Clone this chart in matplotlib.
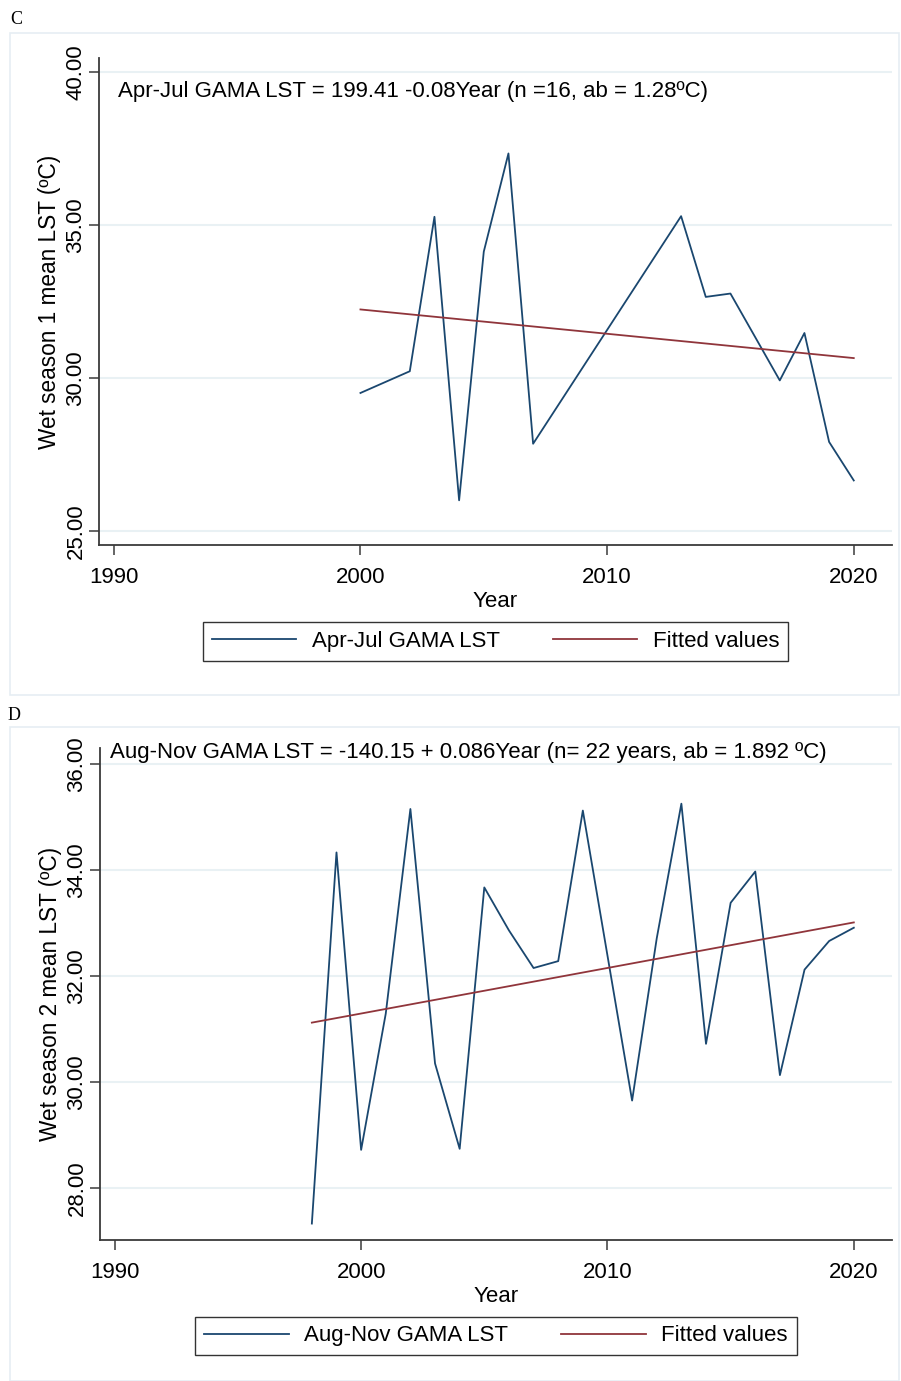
import matplotlib.pyplot as plt
from matplotlib.patches import Rectangle
import numpy as np

plt.rcParams['font.family'] = ['Liberation Sans', 'DejaVu Sans']

# panel C: Apr-Jul
years_c = [2000, 2002, 2003, 2004, 2005, 2006, 2007, 2013, 2014, 2015, 2017, 2018, 2019, 2020]
lst_c = [29.51, 30.22, 35.27, 26.00, 34.13, 37.34, 27.85, 35.29, 32.65, 32.76, 29.92, 31.47, 27.91, 26.65]
fit_years_c = [2000, 2020]
fit_c = [32.24, 30.65]

# panel D: Aug-Nov
years_d = [1998, 1999, 2000, 2001, 2002, 2003, 2004, 2005, 2006, 2007, 2008, 2009,
           2011, 2012, 2013, 2014, 2015, 2016, 2017, 2018, 2019, 2020]
lst_d = [27.33, 34.33, 28.72, 31.29, 35.15, 30.35, 28.74, 33.67, 32.86, 32.15, 32.28, 35.12,
         29.65, 32.71, 35.25, 30.72, 33.38, 33.97, 30.13, 32.12, 32.66, 32.91]
fit_years_d = [1998, 2020]
fit_d = [31.12, 33.01]

xticks = [1990, 2000, 2010, 2020]
yticks_c = [25, 30, 35, 40]
yticks_d = [28, 30, 32, 34, 36]

navy = '#1a476f'
maroon = '#90353b'
grid_col = '#e9f1f4'

W, H = 901, 1381
fig = plt.figure(figsize=(W / 100, H / 100), dpi=100)


def fx(px):
    return px / W


def fy(py):
    return 1 - py / H


# light panel frames
for (x0, y0, x1, y1) in [(10, 33, 899, 695), (10, 727, 899, 1381)]:
    fig.patches.append(Rectangle((fx(x0), fy(y1)), fx(x1 - x0), (y1 - y0) / H,
                                 transform=fig.transFigure, fill=False,
                                 edgecolor='#e6eef3', linewidth=1.2))

fig.text(fx(10), fy(20), 'C', family='Liberation Serif', fontsize=13, va='center')
fig.text(fx(8), fy(715), 'D', family='Liberation Serif', fontsize=13, va='center')


def panel(rect, years, vals, fyears, fvals, yticks, ylim, label, ylabel, eq, eq_xy, leg_y):
    ax = fig.add_axes(rect)
    ax.plot(years, vals, color=navy, lw=1.3, label=label)
    ax.plot(fyears, fvals, color=maroon, lw=1.3, label='Fitted values')
    ax.set_xlim(1989.4, 2021.55)
    ax.set_ylim(*ylim)
    ax.set_xticks(xticks)
    ax.set_yticks(yticks)
    ax.set_yticklabels(['%.2f' % v for v in yticks])
    for s in ['top', 'right']:
        ax.spines[s].set_visible(False)
    for s in ['left', 'bottom']:
        ax.spines[s].set_color('#3a3a3a')
        ax.spines[s].set_linewidth(1.3)
    ax.grid(axis='y', color=grid_col, lw=1.5)
    ax.set_axisbelow(True)
    ax.tick_params(direction='out', length=7, width=1.1, color='#3a3a3a',
                   labelsize=16)
    ax.tick_params(axis='x', pad=9)
    ax.tick_params(axis='y', pad=2)
    for lab in ax.get_yticklabels():
        lab.set_rotation(90)
        lab.set_va('center')
    ax.set_xlabel('Year', fontsize=16, labelpad=2)
    ax.set_ylabel(ylabel, fontsize=16.3, labelpad=3)
    ax.text(eq_xy[0], eq_xy[1], eq, transform=ax.transAxes, fontsize=16, va='center')
    leg = ax.legend(loc='center', bbox_to_anchor=(0.5, leg_y), ncol=2, fontsize=16,
                    frameon=True, fancybox=False, edgecolor='black', handlelength=3.8,
                    columnspacing=2.4, borderpad=0.4, handletextpad=0.7)
    leg.get_frame().set_linewidth(1.0)
    return ax


panel([fx(99), fy(545), fx(892 - 99), (545 - 58) / H], years_c, lst_c, fit_years_c, fit_c,
      yticks_c, (24.54, 40.46), 'Apr-Jul GAMA LST', 'Wet season 1 mean LST (ºC)',
      'Apr-Jul GAMA LST = 199.41 -0.08Year (n =16, ab = 1.28ºC)', (0.024, 0.932), -0.198)

panel([fx(100), fy(1240), fx(892 - 100), (1240 - 748) / H], years_d, lst_d, fit_years_d, fit_d,
      yticks_d, (27.02, 36.3), 'Aug-Nov GAMA LST', 'Wet season 2 mean LST (ºC)',
      'Aug-Nov GAMA LST = -140.15 + 0.086Year (n= 22 years, ab = 1.892 ºC)', (0.0126, 0.99), -0.195)

fig.savefig('out.png', dpi=100)
